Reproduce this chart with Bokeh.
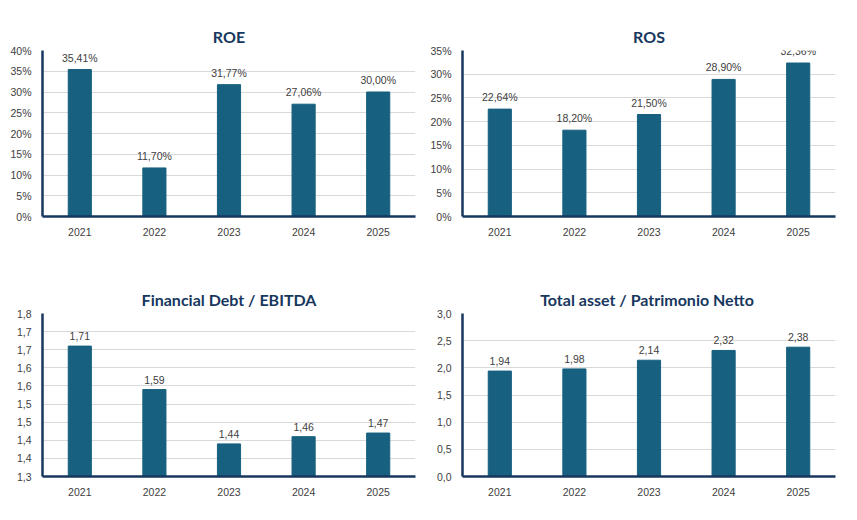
from bokeh.plotting import figure
from bokeh.layouts import gridplot
from bokeh.models import ColumnDataSource, LabelSet, FixedTicker, Range1d
from bokeh.core.properties import value
from bokeh.embed import file_html
from bokeh.resources import INLINE

years = ["2021", "2022", "2023", "2024", "2025"]
roe = [35.41, 11.70, 31.77, 27.06, 30.00]
ros = [22.64, 18.20, 21.50, 28.90, 32.36]
debt_ebitda = [1.71, 1.59, 1.44, 1.46, 1.47]
asset_pn = [1.94, 1.98, 2.14, 2.32, 2.38]

BAR = "#17607f"
TITLE = "#17375e"

def fmt(v, dec, pct):
    s = f"{v:.{dec}f}".replace(".", ",")
    return s + ("%" if pct else "")

def panel(title, vals, ymin, ymax, ticks, ticklabels, dec, pct, top_border, height):
    src = ColumnDataSource(dict(x=years, y=vals, lab=[fmt(v, dec, pct) for v in vals]))
    p = figure(x_range=years, y_range=Range1d(ymin, ymax), width=420, height=height,
               output_backend="svg", toolbar_location=None, title=title,
               min_border_left=42, min_border_right=5, min_border_top=top_border, min_border_bottom=30)
    p.title.align = "center"
    p.title.text_font = "Lato"
    p.title.text_font_style = "bold"
    p.title.text_font_size = "16px"
    p.title.text_color = TITLE
    p.vbar(x="x", top="y", bottom=ymin, width=0.31, color=BAR, source=src)
    p.add_layout(LabelSet(x="x", y="y", text="lab", source=src, y_offset=6, text_align="center",
                          text_font=value("Liberation Sans"), text_font_size="10.5px",
                          text_color="#404040"))
    p.yaxis.ticker = FixedTicker(ticks=ticks)
    p.yaxis.major_label_overrides = {t: l for t, l in zip(ticks, ticklabels)}
    for ax in (p.xaxis, p.yaxis):
        ax.major_label_text_font = "Liberation Sans"
        ax.major_label_text_font_size = "10.5px"
        ax.major_label_text_color = "#404040"
        ax.major_tick_line_color = None
        ax.minor_tick_line_color = None
        ax.axis_line_color = "#17375e"
        ax.axis_line_width = 2.5
    p.xgrid.grid_line_color = None
    p.ygrid.grid_line_color = "#d9d9d9"
    p.outline_line_color = None
    p.x_range.range_padding = 0
    return p

roe_ticks = [0, 5, 10, 15, 20, 25, 30, 35, 40]
p1 = panel("ROE", roe, 0, 40, roe_ticks, [f"{t}%" for t in roe_ticks], 2, True, 50, 246)
ros_ticks = [0, 5, 10, 15, 20, 25, 30, 35]
p2 = panel("ROS", ros, 0, 35, ros_ticks, [f"{t}%" for t in ros_ticks], 2, True, 50, 246)
d_ticks = [1.35, 1.40, 1.45, 1.50, 1.55, 1.60, 1.65, 1.70, 1.75, 1.80]
d_labels = ["1,3", "1,4", "1,4", "1,5", "1,5", "1,6", "1,6", "1,7", "1,7", "1,8"]
p3 = panel("Financial Debt / EBITDA", debt_ebitda, 1.35, 1.80, d_ticks, d_labels, 2, False, 67, 260)
a_ticks = [0, 0.5, 1.0, 1.5, 2.0, 2.5, 3.0]
p4 = panel("Total asset /  Patrimonio Netto", asset_pn, 0, 3.0, a_ticks,
           [f"{t:.1f}".replace(".", ",") for t in a_ticks], 2, False, 52, 260)

grid = gridplot([[p1, p2], [p3, p4]], toolbar_location=None)
open("out.html", "w").write(file_html(grid, INLINE))
